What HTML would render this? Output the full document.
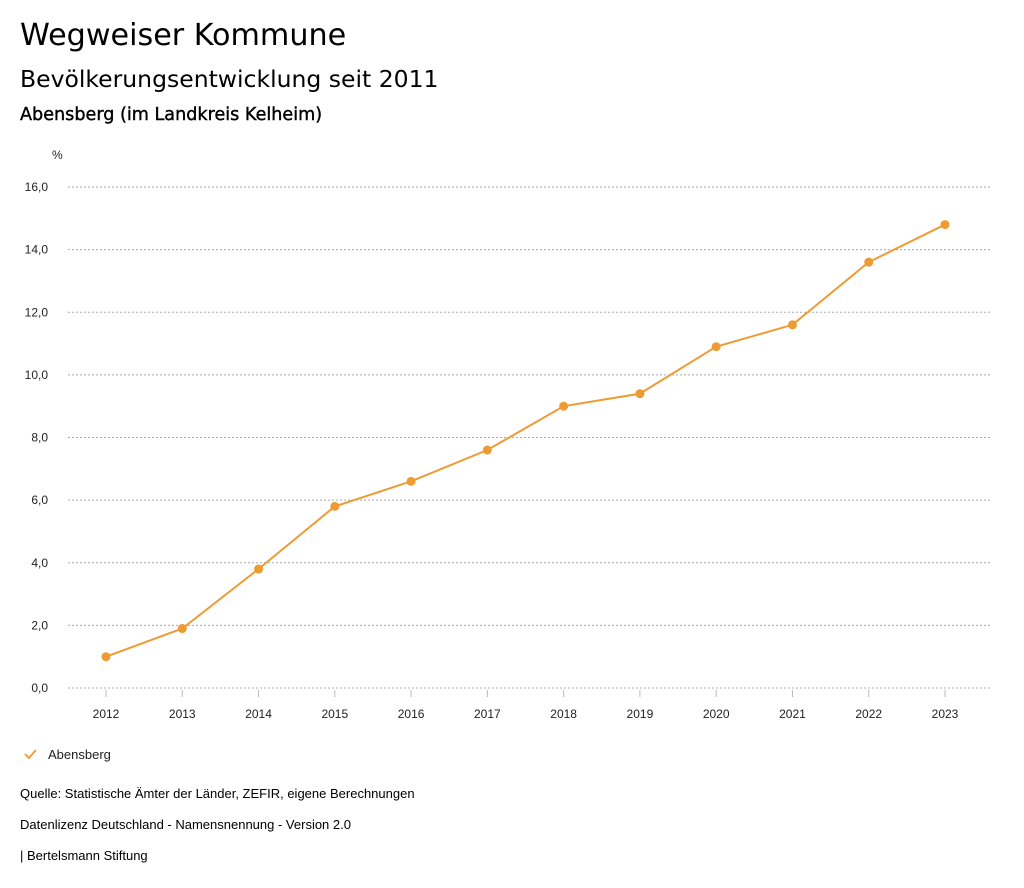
<!DOCTYPE html>
<html><head><meta charset="utf-8">
<style>
body{margin:0;background:#fff;font-family:"Liberation Sans",sans-serif;color:#000;}
#wrap{position:relative;width:1024px;height:888px;overflow:hidden;}
.t{position:absolute;left:20px;white-space:nowrap;}
.h{font-family:"DejaVu Sans",sans-serif;}
</style></head>
<body>
<div id="wrap">
<div class="t h" style="top:18px;font-size:30.2px;">Wegweiser Kommune</div>
<div class="t h" style="top:65px;font-size:23.5px;">Bevölkerungsentwicklung seit 2011</div>
<div class="t h" style="top:105px;font-size:17.6px;-webkit-text-stroke:0.4px #000;">Abensberg (im Landkreis Kelheim)</div>
<svg id="chart" width="1024" height="888" style="position:absolute;left:0;top:0"></svg>
<div class="t" style="top:786px;font-size:13px;">Quelle: Statistische Ämter der Länder, ZEFIR, eigene Berechnungen</div>
<div class="t" style="top:817px;font-size:13px;">Datenlizenz Deutschland - Namensnennung - Version 2.0</div>
<div class="t" style="top:848px;font-size:13px;">| Bertelsmann Stiftung</div>
</div>
<script>
const years=["2012","2013","2014","2015","2016","2017","2018","2019","2020","2021","2022","2023"];
const values=[1.0,1.9,3.8,5.8,6.6,7.6,9.0,9.4,10.9,11.6,13.6,14.8];
const yTicks=[0,2,4,6,8,10,12,14,16];
const seriesName="Abensberg";
const NS="http://www.w3.org/2000/svg";
const svg=document.getElementById('chart');
const x=i=>106+i*(945-106)/11;
const y=v=>688-v*(688-187)/16;
function mk(tag,attrs,parent){const e=document.createElementNS(NS,tag);for(const k in attrs)e.setAttribute(k,attrs[k]);(parent||svg).appendChild(e);return e;}
const col="#ef9b34";
yTicks.forEach(v=>{
  const g=mk('line',{x1:68,x2:990,y1:y(v),y2:y(v),stroke:'#aaa','stroke-dasharray':'2,2','stroke-width':1});
  
  
  const t=mk('text',{x:48,y:y(v)+4,'text-anchor':'end','font-size':12,'font-family':'Liberation Sans, sans-serif',fill:'#222'});
  t.textContent=v.toFixed(1).replace('.',',');
  
  
});
const pct=mk('text',{x:52,y:159,'font-size':12,'font-family':'Liberation Sans, sans-serif',fill:'#222'});
pct.textContent='%';


years.forEach((yr,i)=>{
  const tk=mk('line',{x1:x(i),x2:x(i),y1:690,y2:697,stroke:'#bbb'});
  
  
  const t=mk('text',{x:x(i),y:718,'text-anchor':'middle','font-size':12,'font-family':'Liberation Sans, sans-serif',fill:'#222'});
  t.textContent=yr;
  
  
});
const line=mk('polyline',{points:values.map((v,i)=>x(i)+','+y(v)).join(' '),fill:'none',stroke:col,'stroke-width':2});


values.forEach((v,i)=>{
  const c=mk('circle',{cx:x(i),cy:y(v),r:4.5,fill:col});
  
  
});
const lg=mk('g',{});


mk('polyline',{points:'25,754 29,758 36,750',fill:'none',stroke:col,'stroke-width':1.8},lg);
const lt=mk('text',{x:48,y:759,'font-size':13,'font-family':'Liberation Sans, sans-serif',fill:'#222'},lg);
lt.textContent=seriesName;
</script>
</body></html>
